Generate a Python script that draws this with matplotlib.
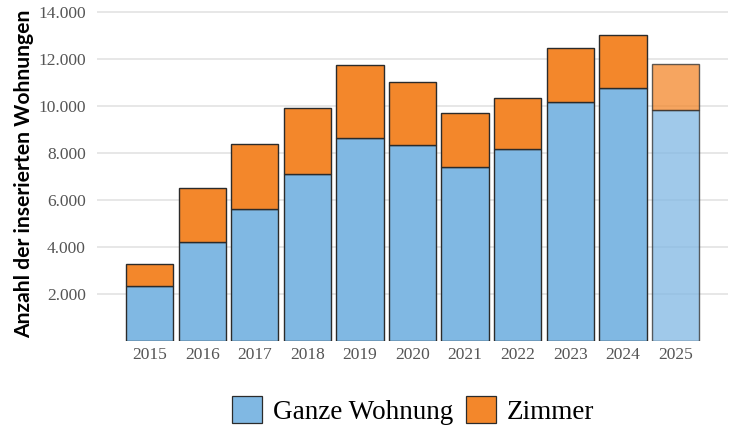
import numpy as np
import matplotlib
matplotlib.use("Agg")
from matplotlib import pyplot as plt
from matplotlib.patches import Patch
from matplotlib.ticker import FuncFormatter

# listings per year
years = [2015, 2016, 2017, 2018, 2019, 2020, 2021, 2022, 2023, 2024, 2025]
ganze_wohnung = [2340, 4210, 5600, 7100, 8640, 8350, 7400, 8160, 10160, 10780, 9820]
zimmer = [940, 2300, 2780, 2820, 3090, 2670, 2290, 2190, 2320, 2250, 1980]
series_labels = ["Ganze Wohnung", "Zimmer"]
y_ticks = [2000, 4000, 6000, 8000, 10000, 12000, 14000]
partial_year = 2025  # incomplete year, drawn lighter

blue = "#80b8e3"
orange = "#f3872b"
edge = "#2b2b2b"

plt.rcParams["font.family"] = ["Liberation Serif", "DejaVu Serif"]

fig = plt.figure(figsize=(7.35, 4.3), dpi=100)
ax = fig.add_axes([0.132, 0.207, 0.8585, 0.776])

x = np.arange(len(years))
alphas = [0.75 if yr == partial_year else 1.0 for yr in years]

for i in range(len(years)):
    ax.bar(x[i], ganze_wohnung[i], width=0.9, color=blue, alpha=alphas[i],
           edgecolor=edge, linewidth=1.0, zorder=3)
    ax.bar(x[i], zimmer[i], width=0.9, bottom=ganze_wohnung[i], color=orange,
           alpha=alphas[i], edgecolor=edge, linewidth=1.0, zorder=3)

ax.set_xlim(-1, len(years))
ax.set_ylim(0, 14200)
ax.set_xticks(x)
ax.set_xticklabels([str(yr) for yr in years])
ax.set_yticks(y_ticks)
ax.yaxis.set_major_formatter(FuncFormatter(lambda v, p: f"{int(v):,}".replace(",", ".")))
ax.tick_params(axis="both", length=0, labelsize=12.5, labelcolor="#555555")
ax.tick_params(axis="x", pad=4)
ax.tick_params(axis="y", pad=8)

ax.grid(axis="y", color="#e3e3e3", linewidth=1.2, zorder=0)
ax.set_axisbelow(True)
for s in ax.spines.values():
    s.set_visible(False)

ax.set_ylabel("Anzahl der inserierten Wohnungen", family=["Lato", "DejaVu Sans"],
              fontweight="bold", fontsize=15.2, color="black")
ax.yaxis.set_label_coords(-0.1, 0.5)

handles = [Patch(facecolor=blue, edgecolor=edge, linewidth=0.9),
           Patch(facecolor=orange, edgecolor=edge, linewidth=0.9)]
fig.legend(handles, series_labels, loc="center", bbox_to_anchor=(0.562, 0.045),
           ncol=2, frameon=False, fontsize=19.5, handlelength=1.12, handleheight=1.12,
           handletextpad=0.4, columnspacing=0.45)

fig.savefig("out.png", dpi=100)
